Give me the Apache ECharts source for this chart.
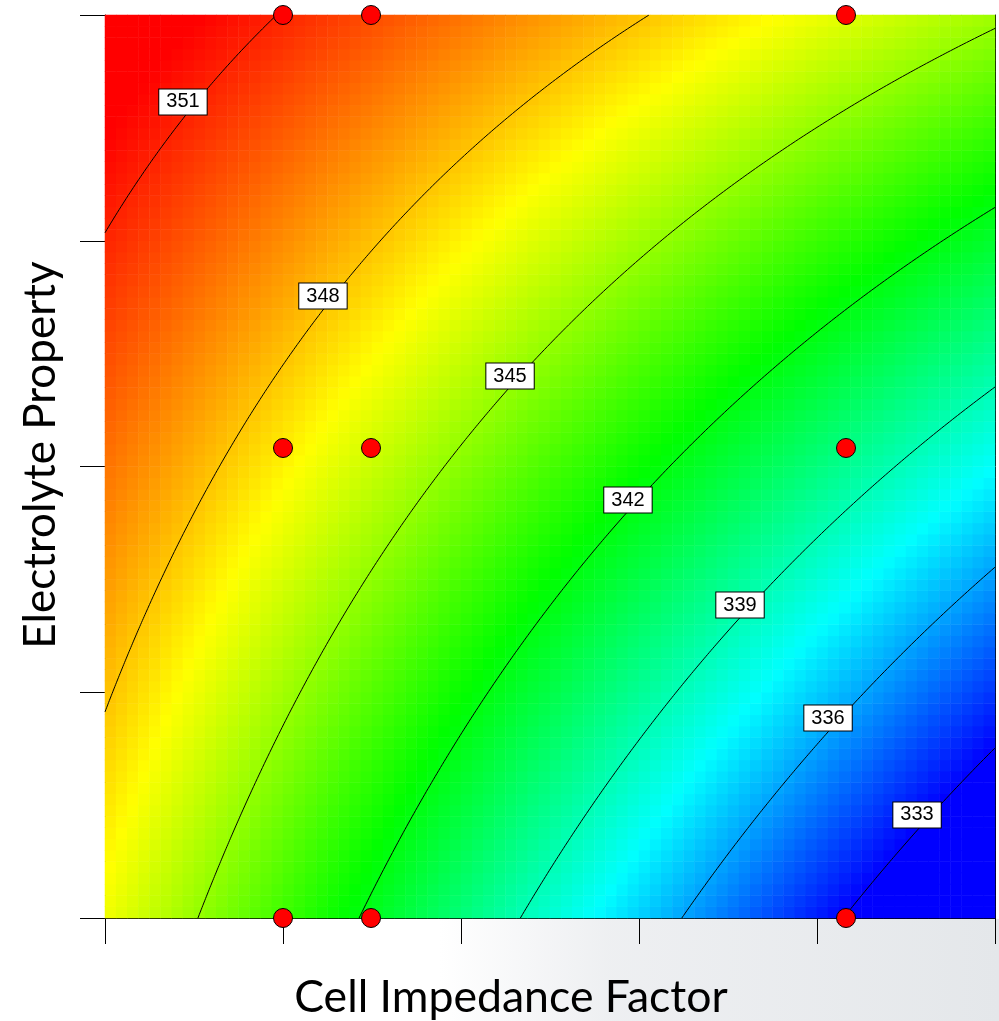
<!DOCTYPE html>
<html>
<head>
<meta charset="utf-8">
<script src="https://cdn.jsdelivr.net/npm/echarts@6/dist/echarts.min.js"></script>
<style>
  html, body { margin: 0; padding: 0; background: #ffffff; }
  #chart { width: 999px; height: 1021px; }
</style>
</head>
<body>
<div id="chart"></div>
<script>
// Coded units: u = cell impedance factor, v = electrolyte property, both 0..1.
// Points lying on each contour line (u, v, response level).
const traceU = [0.1034, 0.2843, 0.4652, 0.647, 0.834,
                0, 0, 0.2, 0.609,
                1, 1, 1, 1, 1,
                0.0528, 0.281, 0.3876, 0.6146, 0.829, 0.511, 0.927,
                0.781, 0.781, 0.781, 0.9135, 0.9393, 0.812, 0.0876, 0.1146];
const traceV = [0, 0, 0, 0, 0,
                0.2303, 0.760, 1, 1,
                0.9845, 0.786, 0.588, 0.3887, 0.189,
                0.352, 0.352, 0.175, 0.7503, 0.8926, 0.9324, 0.7398,
                0.632, 0.402, 0.1705, 0.1008, 0.1274, 0.2065, 0.8893, 0.918];
const traceLevel = [345, 342, 339, 336, 333,
                    348, 351, 351, 348,
                    345, 342, 339, 336, 333,
                    348, 345, 342, 345, 345, 348, 342,
                    342, 339, 336, 333, 333, 336, 351, 351];

// Contour levels and the centre of each level's label box
const contourLevels = [333, 336, 339, 342, 345, 348, 351];
const labelU = [0.9124, 0.8124, 0.7135, 0.5876, 0.4551, 0.2449, 0.0876];
const labelV = [0.1141, 0.2215, 0.3466, 0.4629, 0.6002, 0.6888, 0.9037];

// Design points
const designU = [0.2, 0.2989, 0.8326];
const designV = [0, 0.5205, 1];

// Axis ticks (tick labels are not shown)
const xTicks = [0, 0.2, 0.4, 0.6, 0.8, 1];
const yTicks = [0, 0.25, 0.5, 0.75, 1];

// Response range spanned by the blue-to-red colour ramp
const colorRange = [333.0, 351.6];

const GRID_N = 80; // heatmap cells per side

// Least-squares quadratic response surface through the contour points:
// response = c0 + c1*u + c2*v + c3*u^2 + c4*v^2 + c5*u*v
function basis(u, v) { return [1, u, v, u * u, v * v, u * v]; }
function fitSurface() {
  const n = 6;
  const M = [];
  for (let r = 0; r < n; r++) { M.push(new Array(n + 1).fill(0)); }
  for (let k = 0; k < traceU.length; k++) {
    const b = basis(traceU[k], traceV[k]);
    for (let r = 0; r < n; r++) {
      for (let c = 0; c < n; c++) M[r][c] += b[r] * b[c];
      M[r][n] += b[r] * traceLevel[k];
    }
  }
  for (let p = 0; p < n; p++) {
    let best = p;
    for (let r = p + 1; r < n; r++) if (Math.abs(M[r][p]) > Math.abs(M[best][p])) best = r;
    const tmp = M[p]; M[p] = M[best]; M[best] = tmp;
    for (let r = 0; r < n; r++) {
      if (r === p) continue;
      const f = M[r][p] / M[p][p];
      for (let c = p; c <= n; c++) M[r][c] -= f * M[p][c];
    }
  }
  return M.map(function (row, i) { return row[n] / row[i]; });
}
const coef = fitSurface();
const [c0, c1, c2, c3, c4, c5] = coef;
function response(u, v) {
  return c0 + c1 * u + c2 * v + c3 * u * u + c4 * v * v + c5 * u * v;
}

// Heatmap cells evaluated at cell centres
const cellCats = [];
for (let i = 0; i < GRID_N; i++) cellCats.push(i);
const heatData = [];
for (let i = 0; i < GRID_N; i++) {
  for (let j = 0; j < GRID_N; j++) {
    const u = (i + 0.5) / GRID_N, v = (j + 0.5) / GRID_N;
    heatData.push([i, j, +response(u, v).toFixed(3)]);
  }
}

// Roots of A x^2 + B x + C = 0 lying in [0, 1]
function unitRoots(A, B, C) {
  const out = [];
  if (Math.abs(A) < 1e-9) {
    if (Math.abs(B) > 1e-12) out.push(-C / B);
  } else {
    const d = B * B - 4 * A * C;
    if (d >= 0) {
      const s = Math.sqrt(d);
      out.push((-B + s) / (2 * A), (-B - s) / (2 * A));
    }
  }
  return out.filter(function (x) { return x >= -1e-9 && x <= 1 + 1e-9; });
}
// Contour v for a given u, and u for a given v
function levelV(u, L) { return unitRoots(c4, c2 + c5 * u, c0 + c1 * u + c3 * u * u - L); }
function levelU(v, L) { return unitRoots(c3, c1 + c5 * v, c0 + c2 * v + c4 * v * v - L); }

function tracePath(L) {
  const pts = [];
  const steps = 1000;
  for (let k = 0; k <= steps; k++) {
    const u = k / steps;
    levelV(u, L).forEach(function (v) { pts.push([u, Math.min(1, Math.max(0, v))]); });
  }
  [0, 1].forEach(function (vb) {
    levelU(vb, L).forEach(function (u) { pts.push([Math.min(1, Math.max(0, u)), vb]); });
  });
  pts.sort(function (a, b) { return a[0] - b[0] || a[1] - b[1]; });
  return pts;
}

const contourSeries = contourLevels.map(function (L) {
  return {
    type: 'line',
    xAxisIndex: 1, yAxisIndex: 1,
    data: tracePath(L),
    showSymbol: false,
    symbol: 'none',
    silent: true,
    lineStyle: { color: '#000000', width: 1 },
    z: 5
  };
});

const labelData = contourLevels.map(function (L, i) {
  return [labelU[i], labelV[i], L];
});

const designData = [];
designV.forEach(function (v) {
  designU.forEach(function (u) { designData.push([u, v]); });
});

const chart = echarts.init(document.getElementById('chart'), null, { renderer: 'canvas' });

const gridRect = { left: 105, top: 15, width: 890, height: 903 };
const axisBlack = { color: '#000000', width: 1 };

const option = {
  backgroundColor: '#ffffff',
  animation: false,
  grid: [
    Object.assign({}, gridRect),
    Object.assign({}, gridRect)
  ],
  xAxis: [
    { gridIndex: 0, type: 'category', data: cellCats, show: false, boundaryGap: true },
    {
      gridIndex: 1, type: 'value', min: xTicks[0], max: xTicks[xTicks.length - 1],
      interval: xTicks[1] - xTicks[0], position: 'bottom',
      axisLine: { show: true, onZero: false, lineStyle: axisBlack },
      axisTick: { show: true, inside: false, length: 26, lineStyle: axisBlack },
      axisLabel: { show: false }, splitLine: { show: false }
    },
    {
      gridIndex: 1, type: 'value', min: 0, max: 1, position: 'top',
      axisLine: { show: true, onZero: false, lineStyle: axisBlack },
      axisTick: { show: false }, axisLabel: { show: false }, splitLine: { show: false }
    }
  ],
  yAxis: [
    { gridIndex: 0, type: 'category', data: cellCats, show: false, boundaryGap: true },
    {
      gridIndex: 1, type: 'value', min: yTicks[0], max: yTicks[yTicks.length - 1],
      interval: yTicks[1] - yTicks[0], position: 'left',
      axisLine: { show: true, onZero: false, lineStyle: axisBlack },
      axisTick: { show: true, inside: false, length: 25, lineStyle: axisBlack },
      axisLabel: { show: false }, splitLine: { show: false }
    },
    {
      gridIndex: 1, type: 'value', min: 0, max: 1, position: 'right',
      axisLine: { show: true, onZero: false, lineStyle: axisBlack },
      axisTick: { show: false }, axisLabel: { show: false }, splitLine: { show: false }
    }
  ],
  visualMap: {
    type: 'continuous',
    show: false,
    seriesIndex: 0,
    dimension: 2,
    min: colorRange[0],
    max: colorRange[1],
    inRange: { color: ['#0000ff', '#00ffff', '#00ff00', '#ffff00', '#ff0000'] }
  },
  graphic: [
    {
      type: 'rect', z: -10, silent: true,
      shape: { x: 440, y: 919, width: 559, height: 102 },
      style: {
        fill: new echarts.graphic.LinearGradient(0, 0, 1, 0, [
          { offset: 0, color: 'rgba(232,234,237,0)' },
          { offset: 0.3, color: 'rgba(232,234,237,0.75)' },
          { offset: 1, color: 'rgba(228,231,234,1)' }
        ])
      }
    },
    {
      type: 'text', z: 100, x: 511, y: 998,
      style: {
        text: 'Cell Impedance Factor',
        font: '44.6px Lato, "Open Sans", sans-serif',
        fill: '#000000', textAlign: 'center', textVerticalAlign: 'middle'
      }
    },
    {
      type: 'text', z: 100, x: 41, y: 455, rotation: Math.PI / 2,
      style: {
        text: 'Electrolyte Property',
        font: '44px Lato, "Open Sans", sans-serif',
        fill: '#000000', textAlign: 'center', textVerticalAlign: 'middle'
      }
    }
  ],
  series: [
    {
      type: 'heatmap',
      xAxisIndex: 0, yAxisIndex: 0,
      data: heatData,
      silent: true,
      progressive: 0,
      z: 1
    }
  ].concat(contourSeries).concat([
    {
      type: 'scatter',
      xAxisIndex: 1, yAxisIndex: 1,
      data: labelData,
      symbolSize: 0,
      silent: true,
      z: 8,
      itemStyle: { opacity: 1 },
      label: {
        show: true,
        position: 'inside',
        formatter: function (p) { return String(p.value[2]); },
        fontFamily: '"Liberation Sans", Arial, sans-serif',
        fontSize: 20,
        lineHeight: 20,
        color: '#000000',
        opacity: 1,
        backgroundColor: '#ffffff',
        borderColor: '#000000',
        borderWidth: 1,
        padding: [3, 7, 2, 7]
      }
    },
    {
      type: 'scatter',
      xAxisIndex: 1, yAxisIndex: 1,
      data: designData,
      symbol: 'circle',
      symbolSize: 19,
      clip: false,
      silent: true,
      z: 10,
      itemStyle: { color: '#ff0000', borderColor: '#000000', borderWidth: 1, opacity: 1 }
    }
  ])
};

chart.setOption(option);
</script>
</body>
</html>
